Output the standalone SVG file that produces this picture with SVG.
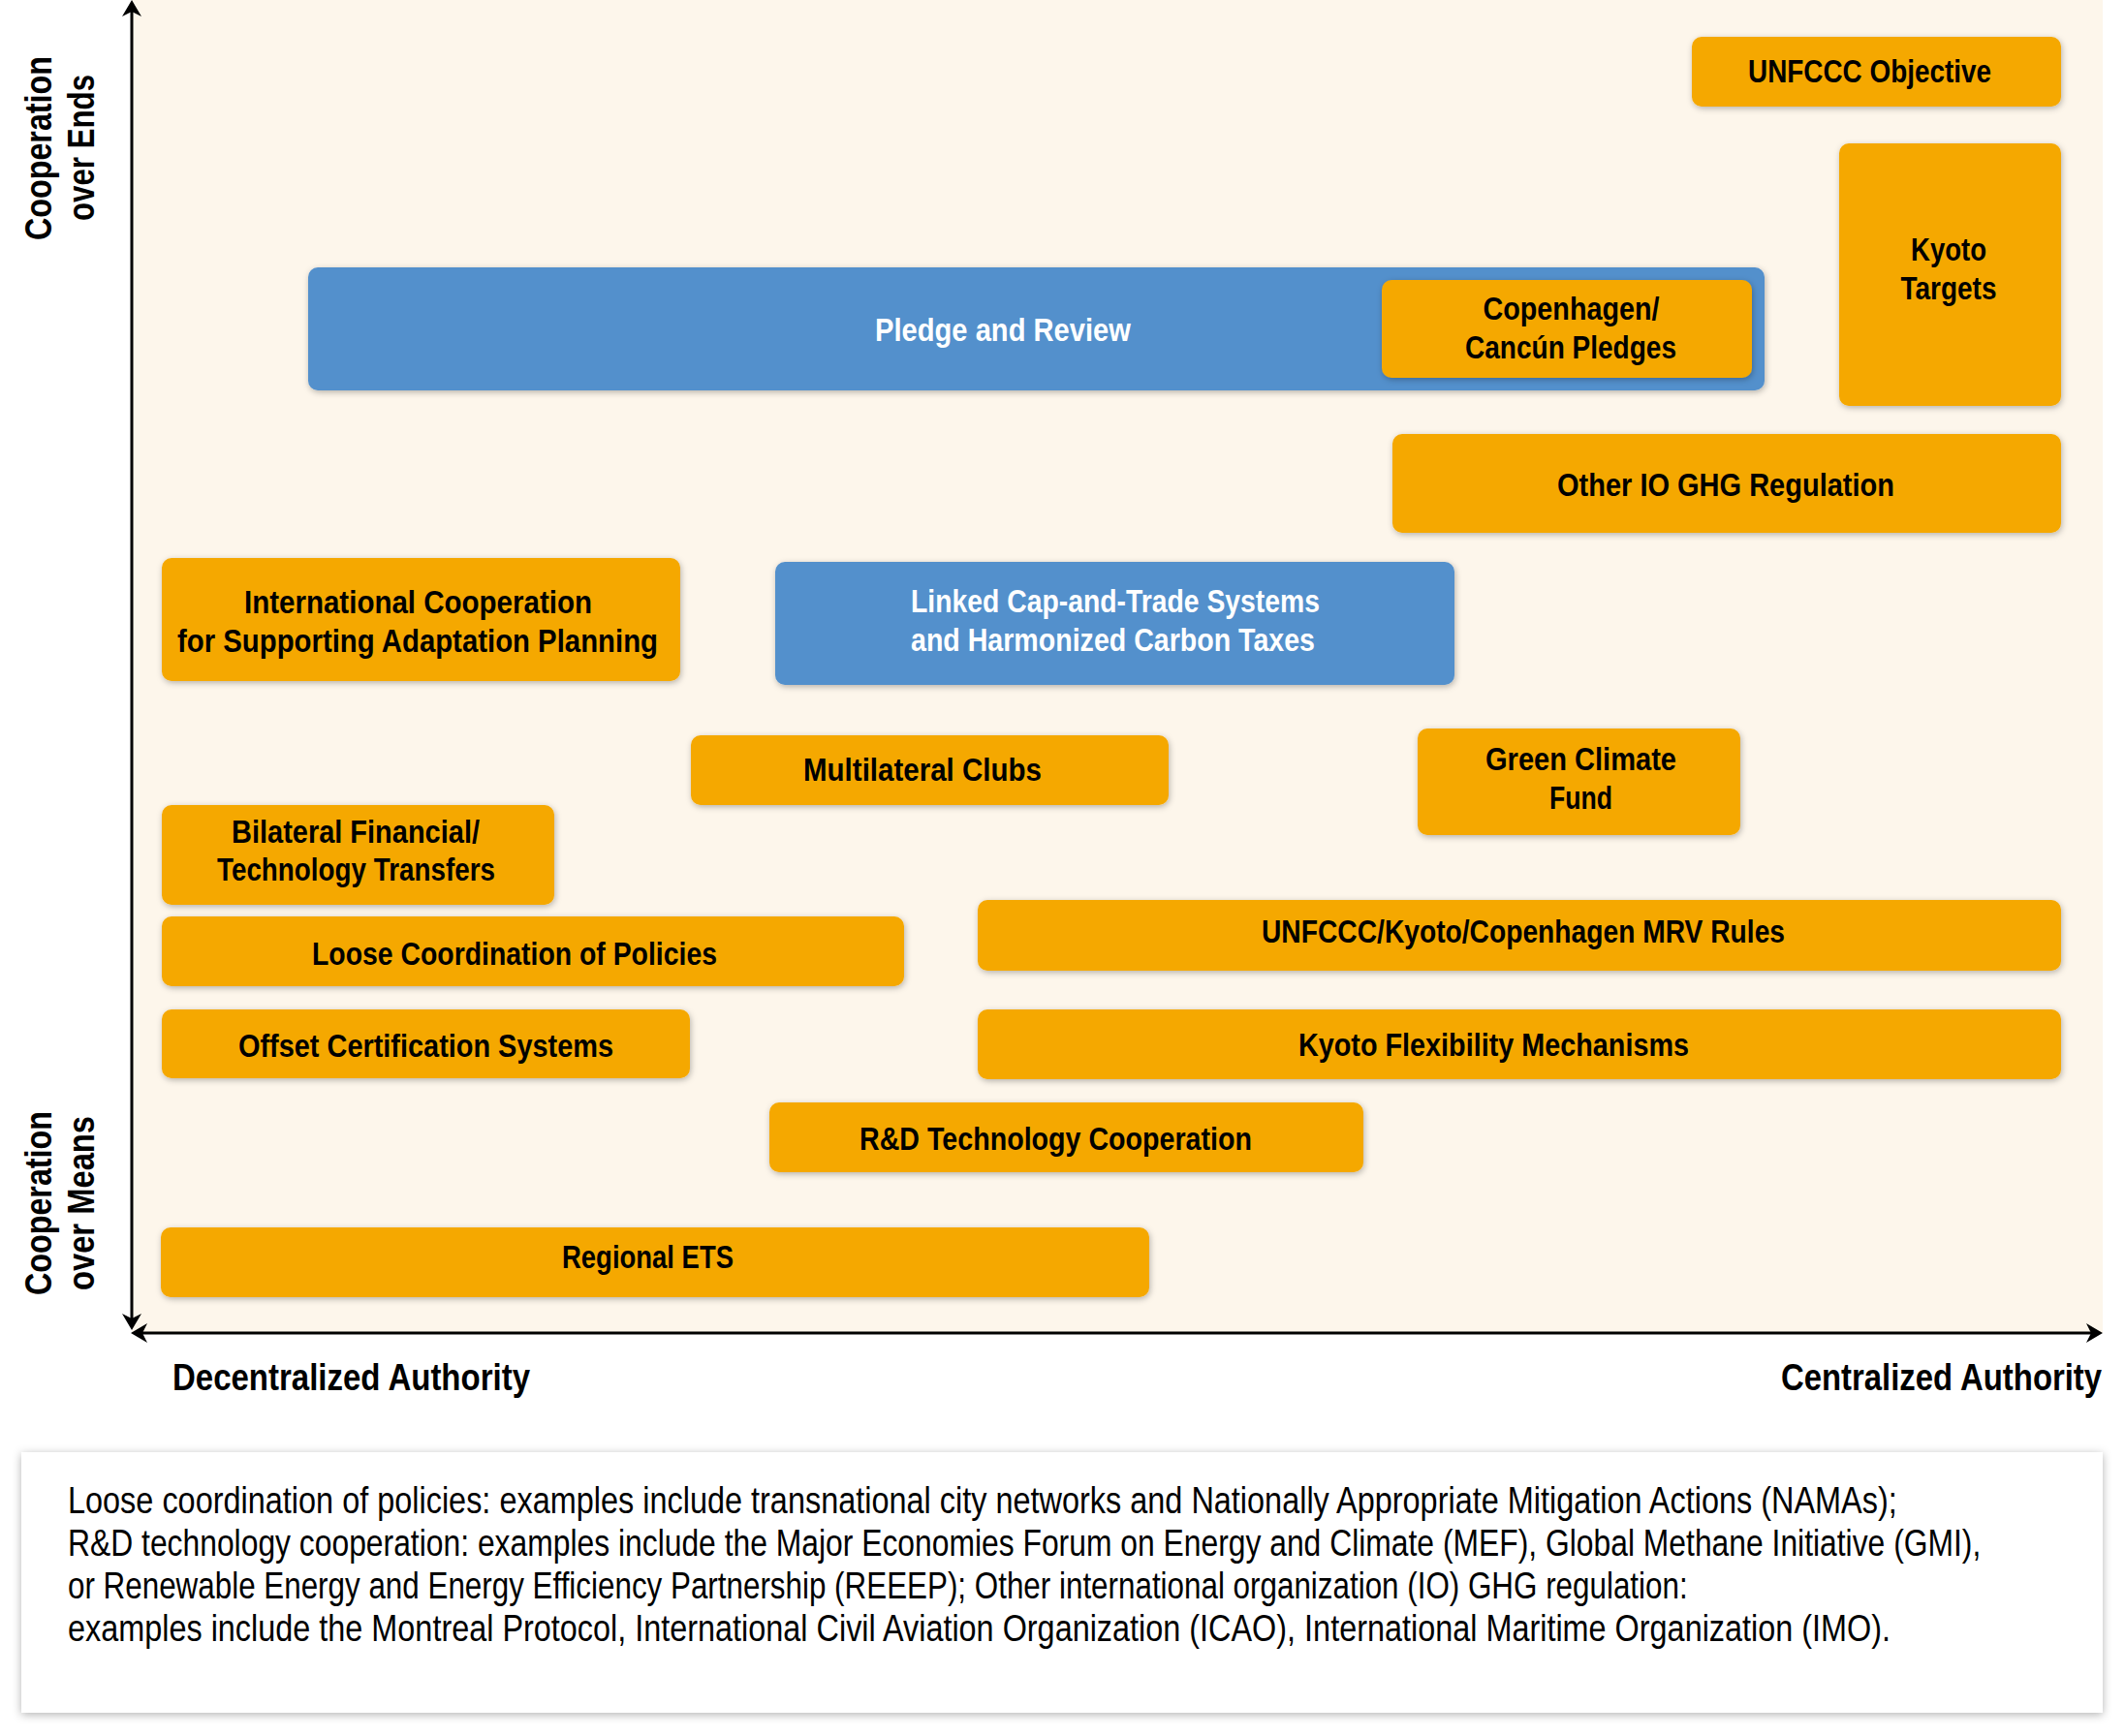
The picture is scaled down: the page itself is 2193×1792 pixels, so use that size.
<svg xmlns="http://www.w3.org/2000/svg" width="2193" height="1792" viewBox="0 0 2193 1792">
<style>
.lbl{font-family:'Liberation Sans Narrow','Liberation Sans',Arial,sans-serif;font-weight:bold;font-size:33px;fill:#000}
.wl{fill:#fff}
.ax{font-family:'Liberation Sans Narrow','Liberation Sans',Arial,sans-serif;font-weight:bold;font-size:38px;fill:#000}
.ft{font-family:'Liberation Sans Narrow','Liberation Sans',Arial,sans-serif;font-size:39px;fill:#000}
.o{fill:#F5A800;filter:url(#sh)}
.b{fill:#5390CC;filter:url(#sh)}
.axis{stroke:#000;stroke-width:3;fill:none;marker-start:url(#ah);marker-end:url(#ah)}
</style>
<defs>
<filter id="sh" x="-10%" y="-20%" width="120%" height="150%">
<feDropShadow dx="1" dy="2" stdDeviation="3" flood-color="#000" flood-opacity="0.28"/>
</filter>
<filter id="sh2" x="-5%" y="-20%" width="110%" height="140%">
<feDropShadow dx="0" dy="2" stdDeviation="5" flood-color="#000" flood-opacity="0.3"/>
</filter>
<marker id="ah" viewBox="-18 -11 19 22" refX="-10" refY="0" markerWidth="19" markerHeight="22" markerUnits="userSpaceOnUse" orient="auto-start-reverse">
<path d="M0,0 L-17,-10 L-12,0 L-17,10 Z" fill="#000"/>
</marker>
</defs>

<rect x="136" y="0" width="2034" height="1376" fill="#FDF6EB"/>

<g id="connectors">
<line class="axis" x1="136" y1="1363" x2="136" y2="10"/>
<line class="axis" x1="145" y1="1376" x2="2160" y2="1376"/>
</g>

<g id="axis-labels">
<text class="ax" transform="translate(52.5,248) rotate(-90)" textLength="190" lengthAdjust="spacingAndGlyphs">Cooperation</text>
<text class="ax" transform="translate(97,228) rotate(-90)" textLength="151" lengthAdjust="spacingAndGlyphs">over Ends</text>
<text class="ax" transform="translate(53,1337) rotate(-90)" textLength="190" lengthAdjust="spacingAndGlyphs">Cooperation</text>
<text class="ax" transform="translate(97,1332) rotate(-90)" textLength="180" lengthAdjust="spacingAndGlyphs">over Means</text>
<text class="ax" x="178" y="1435" textLength="369" lengthAdjust="spacingAndGlyphs">Decentralized Authority</text>
<text class="ax" transform="translate(1838,1435) scale(0.86,1)" textLength="385" lengthAdjust="spacingAndGlyphs">Centralized Authority</text>
</g>

<g id="unfccc-objective">
<rect class="o" x="1746" y="38" width="381" height="72" rx="10"/>
<text class="lbl" x="1804" y="85" textLength="251" lengthAdjust="spacingAndGlyphs">UNFCCC Objective</text>
</g>

<g id="kyoto-targets">
<rect class="o" x="1898" y="148" width="229" height="271" rx="10"/>
<text class="lbl" x="1972" y="269" textLength="78" lengthAdjust="spacingAndGlyphs">Kyoto</text>
<text class="lbl" x="1961.5" y="309" textLength="99" lengthAdjust="spacingAndGlyphs">Targets</text>
</g>

<g id="pledge-and-review">
<rect class="b" x="318" y="276" width="1503" height="127" rx="10"/>
<text class="lbl wl" x="903" y="352" textLength="264" lengthAdjust="spacingAndGlyphs">Pledge and Review</text>
</g>

<g id="copenhagen-pledges">
<rect class="o" x="1426" y="289" width="382" height="101" rx="10"/>
<text class="lbl" x="1530.5" y="330" textLength="182" lengthAdjust="spacingAndGlyphs">Copenhagen/</text>
<text class="lbl" x="1512" y="370" textLength="218" lengthAdjust="spacingAndGlyphs">Cancún Pledges</text>
</g>

<g id="other-io-ghg">
<rect class="o" x="1437" y="448" width="690" height="102" rx="10"/>
<text class="lbl" x="1607" y="512" textLength="348" lengthAdjust="spacingAndGlyphs">Other IO GHG Regulation</text>
</g>

<g id="intl-cooperation-adaptation">
<rect class="o" x="167" y="576" width="535" height="127" rx="10"/>
<text class="lbl" x="252" y="633" textLength="359" lengthAdjust="spacingAndGlyphs">International Cooperation</text>
<text class="lbl" x="183" y="673" textLength="496" lengthAdjust="spacingAndGlyphs">for Supporting Adaptation Planning</text>
</g>

<g id="linked-cap-and-trade">
<rect class="b" x="800" y="580" width="701" height="127" rx="10"/>
<text class="lbl wl" x="940" y="632" textLength="422" lengthAdjust="spacingAndGlyphs">Linked Cap-and-Trade Systems</text>
<text class="lbl wl" x="940" y="672" textLength="417" lengthAdjust="spacingAndGlyphs">and Harmonized Carbon Taxes</text>
</g>

<g id="multilateral-clubs">
<rect class="o" x="713" y="759" width="493" height="72" rx="10"/>
<text class="lbl" x="829" y="806" textLength="246" lengthAdjust="spacingAndGlyphs">Multilateral Clubs</text>
</g>

<g id="green-climate-fund">
<rect class="o" x="1463" y="752" width="333" height="110" rx="10"/>
<text class="lbl" x="1533" y="795" textLength="197" lengthAdjust="spacingAndGlyphs">Green Climate</text>
<text class="lbl" x="1599" y="835" textLength="65" lengthAdjust="spacingAndGlyphs">Fund</text>
</g>

<g id="bilateral-transfers">
<rect class="o" x="167" y="831" width="405" height="103" rx="10"/>
<text class="lbl" x="239" y="870" textLength="256" lengthAdjust="spacingAndGlyphs">Bilateral Financial/</text>
<text class="lbl" x="224" y="909" textLength="287" lengthAdjust="spacingAndGlyphs">Technology Transfers</text>
</g>

<g id="loose-coordination">
<rect class="o" x="167" y="946" width="766" height="72" rx="10"/>
<text class="lbl" x="322" y="996" textLength="418" lengthAdjust="spacingAndGlyphs">Loose Coordination of Policies</text>
</g>

<g id="mrv-rules">
<rect class="o" x="1009" y="929" width="1118" height="73" rx="10"/>
<text class="lbl" x="1302" y="973" textLength="540" lengthAdjust="spacingAndGlyphs">UNFCCC/Kyoto/Copenhagen MRV Rules</text>
</g>

<g id="offset-certification">
<rect class="o" x="167" y="1042" width="545" height="71" rx="10"/>
<text class="lbl" x="246" y="1091" textLength="387" lengthAdjust="spacingAndGlyphs">Offset Certification Systems</text>
</g>

<g id="kyoto-flexibility">
<rect class="o" x="1009" y="1042" width="1118" height="72" rx="10"/>
<text class="lbl" x="1340" y="1090" textLength="403" lengthAdjust="spacingAndGlyphs">Kyoto Flexibility Mechanisms</text>
</g>

<g id="rd-cooperation">
<rect class="o" x="794" y="1138" width="613" height="72" rx="10"/>
<text class="lbl" x="887" y="1187" textLength="405" lengthAdjust="spacingAndGlyphs">R&amp;D Technology Cooperation</text>
</g>

<g id="regional-ets">
<rect class="o" x="166" y="1267" width="1020" height="72" rx="10"/>
<text class="lbl" x="580" y="1309" textLength="177" lengthAdjust="spacingAndGlyphs">Regional ETS</text>
</g>

<g id="footnote">
<rect x="22" y="1499" width="2148" height="269" fill="#fff" filter="url(#sh2)"/>
<text class="ft" transform="translate(70,1562) scale(0.74,1)" textLength="2551" lengthAdjust="spacingAndGlyphs">Loose coordination of policies: examples include transnational city networks and Nationally Appropriate Mitigation Actions (NAMAs);</text>
<text class="ft" transform="translate(70,1606) scale(0.74,1)" textLength="2668" lengthAdjust="spacingAndGlyphs">R&amp;D technology cooperation: examples include the Major Economies Forum on Energy and Climate (MEF), Global Methane Initiative (GMI),</text>
<text class="ft" transform="translate(70,1650) scale(0.74,1)" textLength="2259" lengthAdjust="spacingAndGlyphs">or Renewable Energy and Energy Efficiency Partnership (REEEP); Other international organization (IO) GHG regulation:</text>
<text class="ft" transform="translate(70,1694) scale(0.74,1)" textLength="2542" lengthAdjust="spacingAndGlyphs">examples include the Montreal Protocol, International Civil Aviation Organization (ICAO), International Maritime Organization (IMO).</text>
</g>
</svg>
